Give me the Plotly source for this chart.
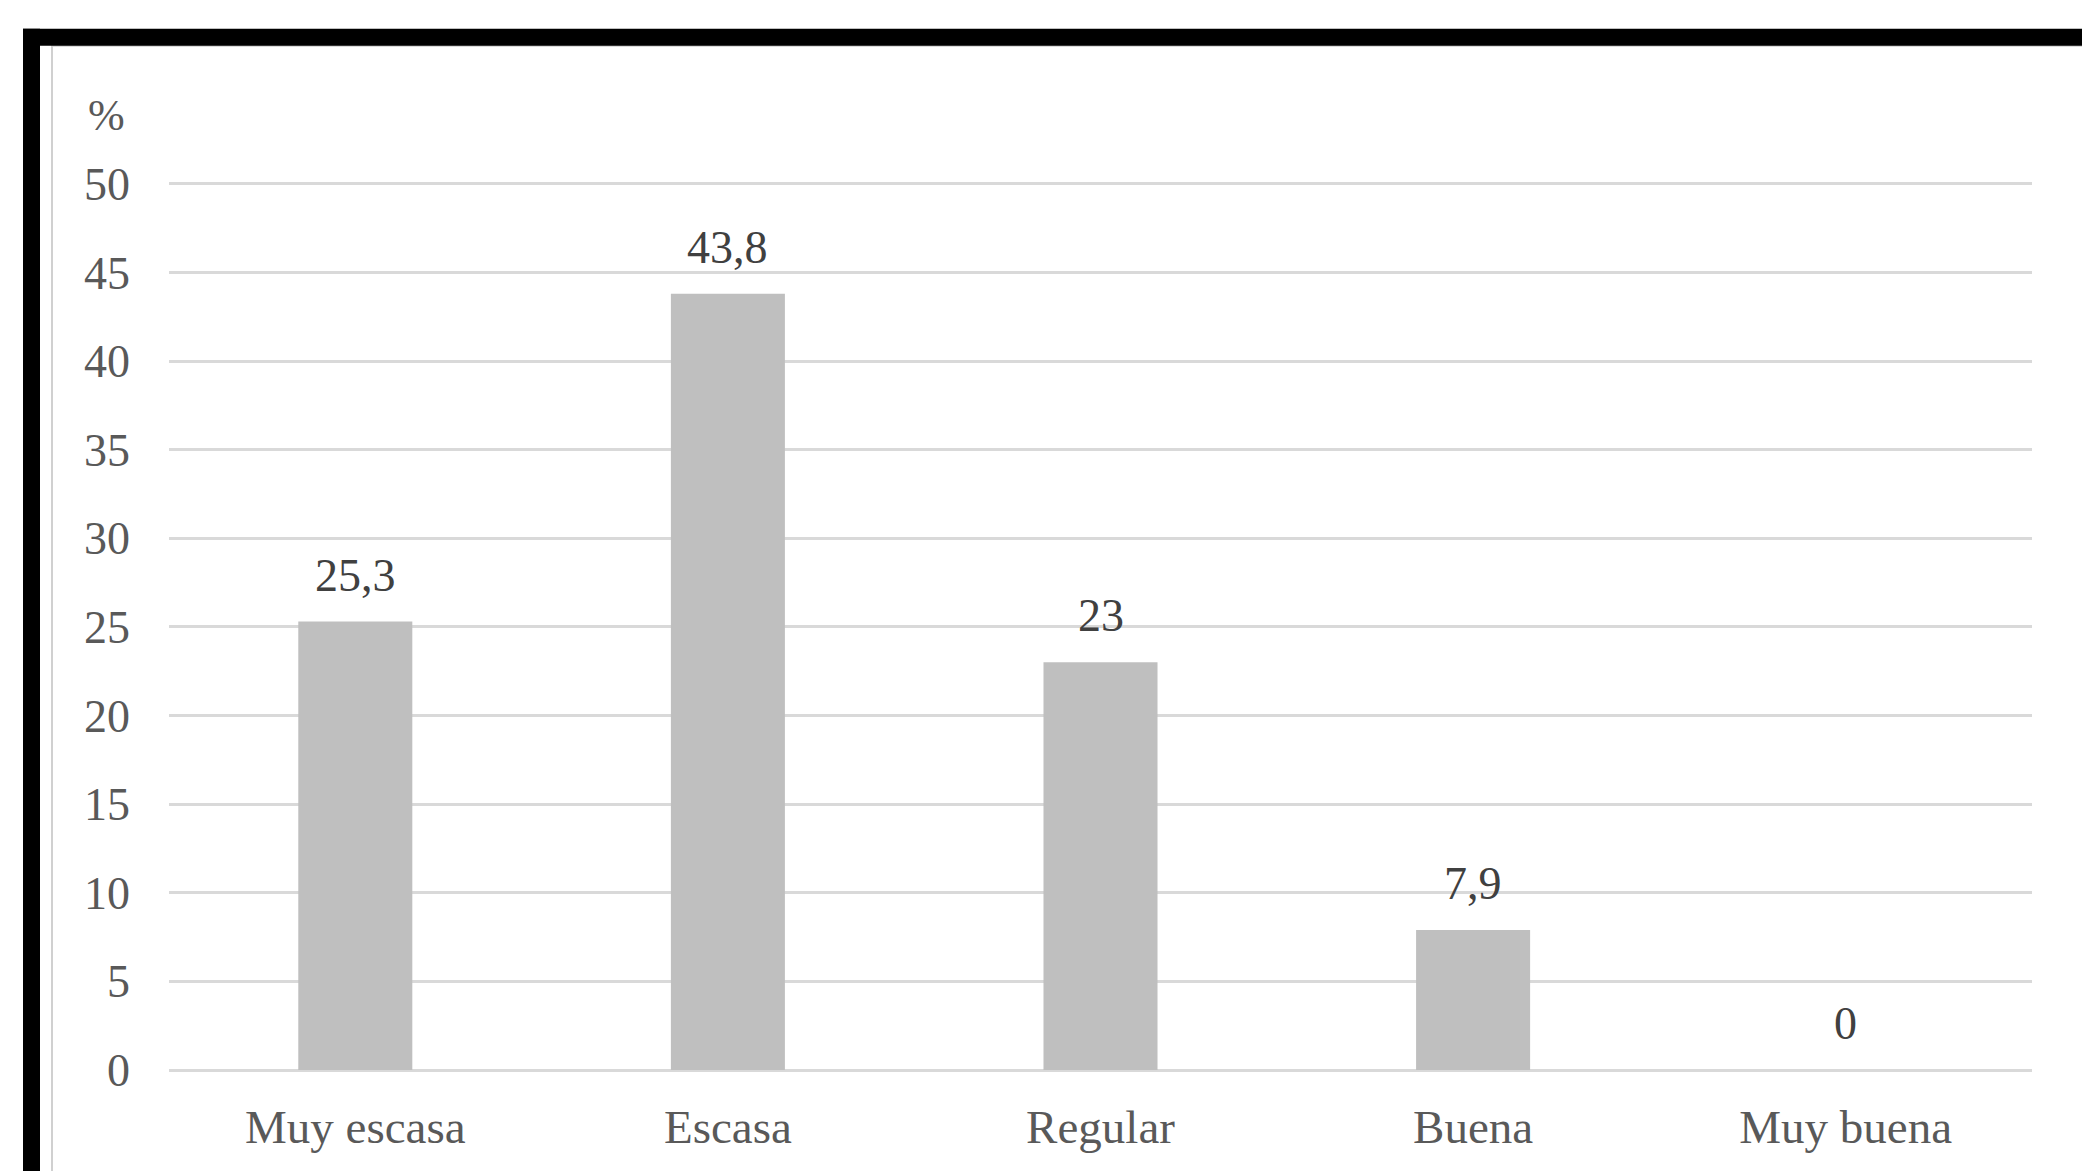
import plotly.graph_objects as go

categories = ["Muy escasa", "Escasa", "Regular", "Buena", "Muy buena"]
values = [25.3, 43.8, 23, 7.9, 0]
y_ticks = [0, 5, 10, 15, 20, 25, 30, 35, 40, 45, 50]
y_max = 50.1

W, H = 2090, 1171
OFF = 8  # page body margin
X0_PAGE, X1_PAGE = 169, 2032
Y0_PAGE = 1070
PER_UNIT = (1070 - 184) / 50.0
YTOP_PAGE = Y0_PAGE - PER_UNIT * y_max

L = X0_PAGE - OFF
R = W - (X1_PAGE - OFF)
T = YTOP_PAGE - OFF
B = H - (Y0_PAGE - OFF)
PW = X1_PAGE - X0_PAGE
PH = Y0_PAGE - YTOP_PAGE

def px_x(px):
    return (px - X0_PAGE) / PW

def px_y(py):
    return (Y0_PAGE - py) / PH

font_family = "Liberation Serif, Times New Roman, serif"
text_color = "#595959"

fig = go.Figure()
fig.add_trace(go.Bar(
    x=categories, y=values,
    marker=dict(color="#BFBFBF", line=dict(width=0)),
    width=0.306,
    hoverinfo="skip",
))

annotations = []
for c, v in zip(categories, values):
    txt = (f"{v:g}").replace(".", ",")
    annotations.append(dict(
        x=c, y=v, xref="x", yref="y", text=txt, showarrow=False,
        yanchor="bottom", yshift=19,
        font=dict(family=font_family, size=46, color="#404040"),
    ))
annotations.append(dict(
    x=0, y=50, xref="paper", yref="y", text="%", showarrow=False,
    xanchor="right", yanchor="middle", xshift=-42, yshift=68,
    font=dict(family=font_family, size=44, color=text_color),
))

shapes = [
    dict(type="rect", xref="paper", yref="paper",
         x0=px_x(52), x1=px_x(2083), y0=px_y(1200), y1=px_y(46),
         line=dict(color="#D0D0D0", width=2), fillcolor="rgba(0,0,0,0)", layer="below"),
    dict(type="rect", xref="paper", yref="paper",
         x0=px_x(23), x1=px_x(40), y0=px_y(1200), y1=px_y(29),
         line=dict(width=0), fillcolor="black", layer="above"),
    dict(type="rect", xref="paper", yref="paper",
         x0=px_x(23), x1=px_x(2110), y0=px_y(46), y1=px_y(29),
         line=dict(width=0), fillcolor="black", layer="above"),
]

fig.update_layout(
    width=W, height=H,
    margin=dict(l=L, r=R, t=T, b=B, pad=0),
    paper_bgcolor="white", plot_bgcolor="white",
    showlegend=False,
    bargap=0.69,
    annotations=annotations,
    shapes=shapes,
    font=dict(family=font_family, size=46, color=text_color),
)
fig.update_xaxes(
    type="category", showgrid=False, zeroline=False, showline=False,
    ticks="", ticklabelstandoff=25,
    tickfont=dict(family=font_family, size=47, color=text_color),
)
fig.update_yaxes(
    range=[0, y_max], tickvals=y_ticks, showgrid=True, gridcolor="#D9D9D9", gridwidth=2.5,
    zeroline=True, zerolinecolor="#D9D9D9", zerolinewidth=2.5, showline=False,
    ticks="", ticklabelstandoff=38,
    tickfont=dict(family=font_family, size=46, color=text_color),
)

fig.write_html("out.html")
